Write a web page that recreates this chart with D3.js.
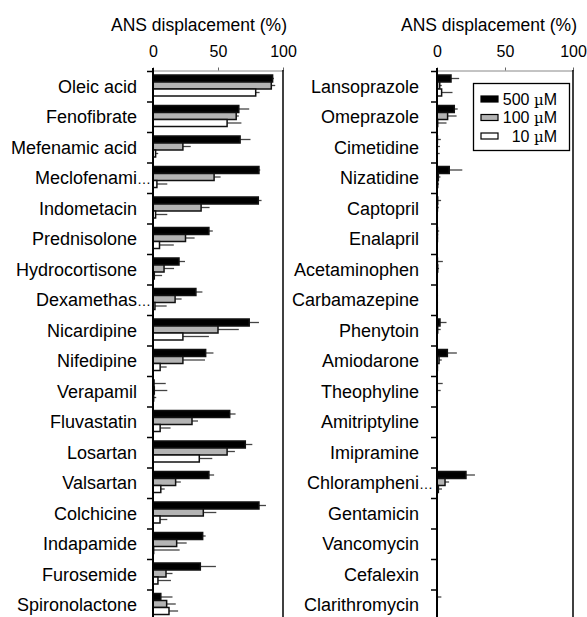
<!DOCTYPE html>
<html>
<head>
<meta charset="utf-8">
<script src="https://cdn.jsdelivr.net/npm/d3@7"></script>
<style>
  body { margin: 0; background: #fff; }
  text { font-family: "Liberation Sans", Arial, sans-serif; fill: #000; }
</style>
</head>
<body>
<script>
// left panel
var catsL = ["Oleic acid", "Fenofibrate", "Mefenamic acid", "Meclofenami…", "Indometacin", "Prednisolone",
  "Hydrocortisone", "Dexamethas…", "Nicardipine", "Nifedipine", "Verapamil", "Fluvastatin",
  "Losartan", "Valsartan", "Colchicine", "Indapamide", "Furosemide", "Spironolactone"];
var v500L = [92, 66, 67, 81.5, 81, 43, 20, 33, 74, 40.5, 0.8, 59, 71, 43, 81.5, 38.2, 36.4, 6];
var v100L = [91, 64, 23, 47, 37, 25, 8.5, 17, 50, 23, 1, 30, 57, 17.4, 38.7, 18.2, 10, 10.5];
var v10L  = [79, 57, 2, 3, 2, 5, 1, 1.5, 23, 5.5, 0.5, 5.5, 35.6, 6, 5.4, 0.5, 3.8, 12.3];
var e500L = [1, 8, 8, 1, 2.5, 3, 4.6, 5, 7.5, 6, 9, 4.5, 5.4, 4, 5.4, 2.3, 12, 9];
var e100L = [3, 2, 6, 5, 6.5, 7, 7.7, 5, 16, 17, 10, 4.6, 6, 4, 10, 7.7, 5, 7];
var e10L  = [3, 11, 2, 8, 9, 11, 6, 9, 20, 5, 2, 8, 10, 3, 5.6, 20, 10, 7];

// right panel
var catsR = ["Lansoprazole", "Omeprazole", "Cimetidine", "Nizatidine", "Captopril", "Enalapril",
  "Acetaminophen", "Carbamazepine", "Phenytoin", "Amiodarone", "Theophyline", "Amitriptyline",
  "Imipramine", "Chloramphenі…", "Gentamicin", "Vancomycin", "Cefalexin", "Clarithromycin"];
var v500R = [10.3, 12.7, 0.3, 9, 0.5, 0.3, 0.3, 0.2, 2.2, 7.6, 0.2, 0, 0, 21.3, 0, 0, 0, 0.2];
var v100R = [2, 7.8, 0.2, 1, 0.3, 0.3, 0.5, 0.2, 0.5, 1.5, 0.2, 0, 0, 5.9, 0, 0, 0, 0];
var v10R  = [3.4, 0.5, 0.2, 0.5, 0.2, 0, 0.2, 0.2, 0, 0.3, 0, 0, 0, 1, 0, 0, 0, 0];
var e500R = [6, 2.5, 2.5, 9.6, 2.5, 1.3, 4, 0.3, 4.8, 7, 4, 0, 0, 6.6, 0, 0, 0, 3];
var e100R = [1.5, 6.6, 2, 1.5, 1, 0.5, 1, 0.5, 2.2, 2, 2.5, 0, 0, 3, 0, 0, 0, 0];
var e10R  = [8, 6.5, 1.8, 1, 0.5, 0, 0.5, 0.3, 0.5, 0.5, 0, 0, 0, 2.7, 0, 0, 0, 0];

var seriesNames = ["500", "100", "10"];
var fills = ["#000", "#b4b4b4", "#fff"];
var ticksX = [0, 50, 100];
var axisTitle = "ANS displacement (%)";

var W = 587, H = 617, plotTop = 71, plotBottom = 620;

var svg = d3.select("body").append("svg")
    .attr("width", W)
    .attr("height", H);

function panel(x0, x1, labelX, cats, vals, errs) {
  var g = svg.append("g");
  var x = d3.scaleLinear().domain([0, 100]).range([x0, x1]);
  var y = d3.scaleBand().domain(cats).range([plotTop, plotBottom]);
  var ys = d3.scaleBand().domain(seriesNames).range([4, 25]);
  var yLin = d3.scaleLinear().domain([0, cats.length]).range([plotTop, plotBottom]);

  // top axis
  var ax = g.append("g")
      .attr("transform", "translate(0," + (plotTop - 0.5) + ")")
      .call(d3.axisTop(x).tickValues(ticksX).tickSize(3).tickSizeOuter(0).tickPadding(11));
  ax.select(".domain").attr("stroke", "#888").attr("stroke-width", 1);
  ax.selectAll(".tick line").attr("stroke", "#666");
  ax.selectAll("text").attr("font-size", 16).attr("font-family", "Liberation Sans, Arial, sans-serif");

  g.append("text")
      .attr("x", x1 + 4)
      .attr("y", 31)
      .attr("text-anchor", "end")
      .attr("font-size", 17.5)
      .text(axisTitle);

  // bars
  seriesNames.forEach(function(s, si) {
    var data = cats.map(function(c, i) { return {c: c, v: vals[si][i], e: errs[si][i]}; });
    g.selectAll(".err" + si)
      .data(data.filter(function(d) { return d.e > 0; }))
      .enter().append("line")
        .attr("x1", function(d) { return x(d.v); })
        .attr("x2", function(d) { return x(d.v + d.e); })
        .attr("y1", function(d) { return y(d.c) + ys(s) + ys.bandwidth() / 2; })
        .attr("y2", function(d) { return y(d.c) + ys(s) + ys.bandwidth() / 2; })
        .attr("stroke", "#444")
        .attr("stroke-width", 1.3);
    g.selectAll(".bar" + si)
      .data(data.filter(function(d) { return d.v > 0; }))
      .enter().append("rect")
        .attr("x", x(0))
        .attr("y", function(d) { return y(d.c) + ys(s); })
        .attr("width", function(d) { return x(d.v) - x(0); })
        .attr("height", ys.bandwidth())
        .attr("fill", fills[si])
        .attr("stroke", "#111")
        .attr("stroke-width", 1.5);
  });

  // left axis with ticks at band edges
  var ay = g.append("g")
      .attr("transform", "translate(" + x0 + ",0)")
      .call(d3.axisLeft(yLin).tickValues(d3.range(cats.length + 1)).tickFormat("").tickSize(6).tickSizeOuter(0));
  ay.select(".domain").attr("stroke", "#000").attr("stroke-width", 2)
      .attr("d", "M0," + (plotTop - 3) + "V" + plotBottom);
  ay.selectAll(".tick line").attr("stroke", "#000").attr("stroke-width", 1.5);

  // right frame
  g.append("line")
      .attr("x1", x1).attr("x2", x1)
      .attr("y1", plotTop - 1).attr("y2", plotBottom)
      .attr("stroke", "#000").attr("stroke-width", 1.5);

  // category labels
  cats.forEach(function(c) {
    var parts = c.split("…");
    var cy = y(c) + y.bandwidth() / 2 + 6.5;
    g.append("text")
        .attr("x", labelX).attr("y", cy)
        .attr("text-anchor", "end")
        .attr("font-size", 18)
        .text(parts[0]);
    if (parts.length > 1) {
      g.append("text")
          .attr("x", labelX).attr("y", cy)
          .attr("font-size", 14)
          .text("…");
    }
  });
  return x;
}

panel(153, 283, 137, catsL, [v500L, v100L, v10L], [e500L, e100L, e10L]);
panel(437, 573, 419, catsR, [v500R, v100R, v10R], [e500R, e100R, e10R]);

// legend
var legendLabels = ["500 ", "100 ", "10 "];
var lg = svg.append("g");
lg.append("rect")
    .attr("x", 473.5).attr("y", 83.5)
    .attr("width", 96).attr("height", 67)
    .attr("fill", "#fff").attr("stroke", "#000").attr("stroke-width", 1.3);
var ly = d3.scalePoint().domain(seriesNames).range([99, 136]);
seriesNames.forEach(function(s, i) {
  lg.append("rect")
      .attr("x", 481).attr("y", ly(s) - 3)
      .attr("width", 17).attr("height", 6)
      .attr("fill", fills[i]).attr("stroke", "#000").attr("stroke-width", 1.2);
  var t = lg.append("text")
      .attr("x", 557).attr("y", ly(s) + 5.5)
      .attr("text-anchor", "end")
      .attr("font-size", 16);
  t.append("tspan").text(legendLabels[i]);
  t.append("tspan").attr("font-family", "DejaVu Serif, serif").attr("font-size", 15).text("µ");
  t.append("tspan").text("M");
});
</script>
</body>
</html>
